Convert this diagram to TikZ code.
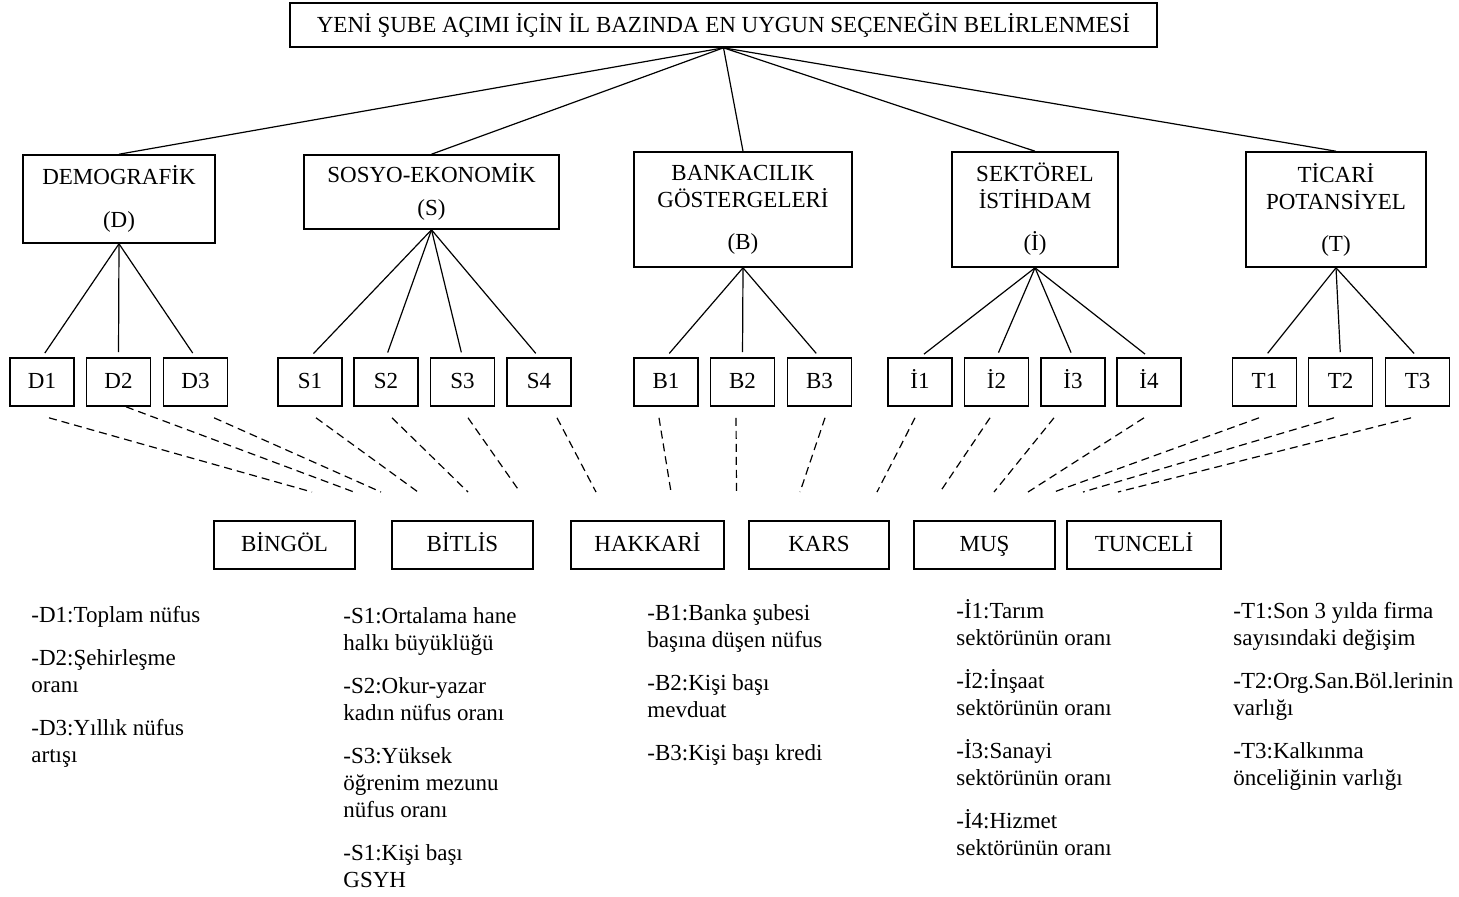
\documentclass[tikz,border=0pt]{standalone}
\usepackage{fontspec}
\setmainfont{Liberation Serif}

\begin{document}
\begin{tikzpicture}[x=0.5pt, y=-0.5pt,
        box/.style={draw, line width=0.8pt, inner sep=0pt, align=center, font=\fontsize{11.5}{13.5}\selectfont},
        sub/.style={box, minimum width=32pt, minimum height=24pt, text height=8pt, text depth=2pt},
        city/.style={box, minimum height=24pt, text height=8pt, text depth=2pt},
        note/.style={anchor=north west, inner sep=0pt, align=left, font=\fontsize{11.5}{13.5}\selectfont},
        link/.style={line width=0.6pt},
        dlink/.style={line width=0.6pt, dash pattern=on 4pt off 2.5pt}]
        \useasboundingbox (0,0) rectangle (1459,896);

        % Goal
        \node[box, minimum width=433.5pt, minimum height=22pt] (goal) at (723.5,25) {YENİ ŞUBE AÇIMI İÇİN İL BAZINDA EN UYGUN SEÇENEĞİN BELİRLENMESİ};

        % Criteria
        \node[box, minimum width=96pt, minimum height=44pt] (dem) at (119,199) {DEMOGRAFİK\\[8pt](D)};
        \node[box, minimum width=127.5pt, minimum height=37pt] (sos) at (431.5,192) {SOSYO-EKONOMİK\\[3pt](S)};
        \node[box, minimum width=109pt, minimum height=57.5pt] (ban) at (743,209.5) {BANKACILIK\\GÖSTERGELERİ\\[7.5pt](B)};
        \node[box, minimum width=83pt, minimum height=57.5pt] (sek) at (1035,209.5) {SEKTÖREL\\İSTİHDAM\\[7.5pt](İ)};
        \node[box, minimum width=90pt, minimum height=57.5pt] (tic) at (1336,209.5) {TİCARİ\\POTANSİYEL\\[7.5pt](T)};

        % Sub-criteria
        \foreach \n/\t/\x in {d1/D1/42, d2/D2/118.5, d3/D3/195.5,
                s1/S1/310, s2/S2/386, s3/S3/462.5, s4/S4/539,
                b1/B1/666, b2/B2/742.5, b3/B3/819.5,
                i1/İ1/920, i2/İ2/996.5, i3/İ3/1073, i4/İ4/1149,
                t1/T1/1264.5, t2/T2/1340.5, t3/T3/1417.5}
            \node[sub] (\n) at (\x,382) {\t};

        % Alternatives
        \node[city, minimum width=70.5pt] (bingol) at (284.5,545) {BİNGÖL};
        \node[city, minimum width=70.5pt] (bitlis) at (462.5,545) {BİTLİS};
        \node[city, minimum width=76.5pt] (hakkari) at (647.5,545) {HAKKARİ};
        \node[city, minimum width=70pt] (kars) at (819,545) {KARS};
        \node[city, minimum width=70.5pt] (mus) at (984.5,545) {MUŞ};
        \node[city, minimum width=77pt] (tunceli) at (1144,545) {TUNCELİ};

        % Links
        \foreach \c in {dem,sos,ban,sek,tic}
            \draw[link] (goal.south) -- (\c.north);
        \foreach \p/\c in {dem/d1, dem/d2, dem/d3, sos/s1, sos/s2, sos/s3, sos/s4,
                ban/b1, ban/b2, ban/b3, sek/i1, sek/i2, sek/i3, sek/i4,
                tic/t1, tic/t2, tic/t3}
            \draw[link, shorten >=2.5pt] (\p.south) -- (\c.north);

        % Dashed links towards the alternatives
        \foreach \n/\dx/\dy/\ex in {d1/7/11/312, d2/7.5/0/354, d3/18.5/11/381,
                s1/6/11/418, s2/6/11/468, s3/5.5/11/520, s4/18/11/596,
                b1/-7/11/671, b2/-6.5/11/736.5, b3/5.5/11/800,
                i1/-5/11/877, i2/-6.5/11/940, i3/-19/11/994, i4/-5/11/1028,
                t1/-5.5/11/1054, t2/-6.5/11/1083, t3/-6.5/11/1118} {
            \coordinate (e-\n) at (\ex,492);
            \draw[dlink] ([shift={(\dx,\dy)}]\n.south) -- (e-\n);
        }

        % Notes
        \node[note] (noteD) at (31,603) {\strut-D1:Toplam nüfus\\[8pt]-D2:Şehirleşme\\oranı\\[8pt]-D3:Yıllık nüfus\\artışı};
        \node[note] (noteS) at (343,604) {\strut-S1:Ortalama hane\\halkı büyüklüğü\\[8pt]-S2:Okur-yazar\\kadın nüfus oranı\\[8pt]-S3:Yüksek\\öğrenim mezunu\\nüfus oranı\\[8pt]-S1:Kişi başı\\GSYH};
        \node[note] (noteB) at (647,601) {\strut-B1:Banka şubesi\\başına düşen nüfus\\[8pt]-B2:Kişi başı\\mevduat\\[8pt]-B3:Kişi başı kredi};
        \node[note] (noteI) at (956,599) {\strut-İ1:Tarım\\sektörünün oranı\\[8pt]-İ2:İnşaat\\sektörünün oranı\\[8pt]-İ3:Sanayi\\sektörünün oranı\\[8pt]-İ4:Hizmet\\sektörünün oranı};
        \node[note] (noteT) at (1233,599) {\strut-T1:Son 3 yılda firma\\sayısındaki değişim\\[8pt]-T2:Org.San.Böl.lerinin\\varlığı\\[8pt]-T3:Kalkınma\\önceliğinin varlığı};

    \end{tikzpicture}
\end{document}
